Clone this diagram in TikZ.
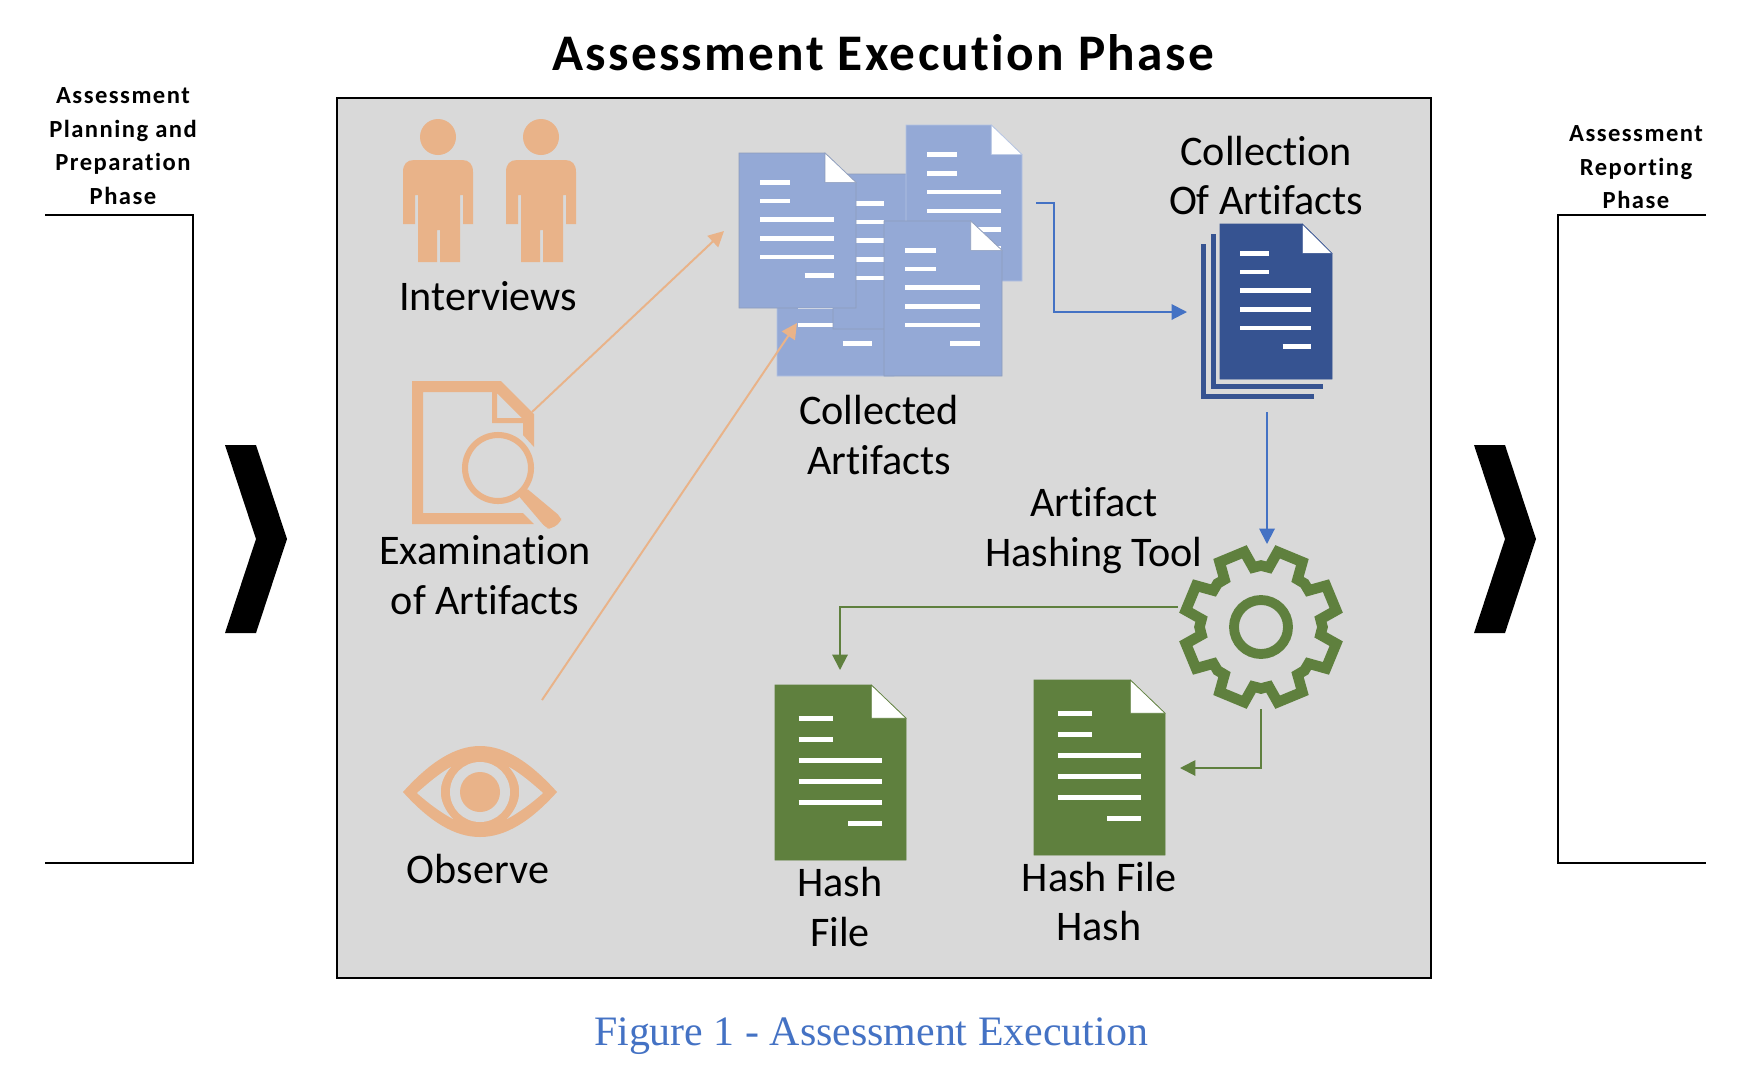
\documentclass[tikz,border=0pt]{standalone}
\usepackage{fontspec}
\setmainfont{Carlito}[Ligatures=NoCommon]
\newfontfamily\spacedbold[LetterSpace=6,Ligatures=NoCommon,BoldFont={Carlito Bold}]{Carlito}
\newfontfamily\titlebold[LetterSpace=4.5,Ligatures=NoCommon,BoldFont={Carlito Bold}]{Carlito}
\newfontfamily\captionserif{Liberation Serif}
\usetikzlibrary{arrows.meta}
\definecolor{panelgray}{HTML}{D9D9D9}
\definecolor{peach}{HTML}{E9B389}
\definecolor{paleblue}{HTML}{94A9D6}
\definecolor{deepblue}{HTML}{365391}
\definecolor{arrowblue}{HTML}{4472C4}
\definecolor{leafgreen}{HTML}{5F803E}
\tikzset{
  every node/.style={font=\fontsize{30}{35.5}\selectfont,align=center,inner sep=0pt},
  line cap=butt,line join=miter,
  phaselabel/.style={font=\fontsize{17.5}{23.8}\spacedbold\bfseries},
  phaseframe/.style={line width=1.1pt},
  chevron/.style={fill=black},
  link/.style={line width=1.4pt,-{Triangle[length=11pt,width=11pt]}},
  peachlink/.style={link,draw=peach},
  bluelink/.style={link,draw=arrowblue},
  greenlink/.style={link,draw=leafgreen}
}
% one sheet: left, top, width, height, fill, edge
\newcommand{\docsheet}[6]{
  \begin{scope}[shift={(#1,#2)},x=#3*0.25mm,y=-#4*0.25mm]
    \fill[#5,draw=#6,line width=0.6pt] (0,0) -- (0.735,0) -- (1,0.19) -- (1,1) -- (0,1) -- cycle;
    \fill[white,draw=#6,line width=0.4pt] (0.735,0) -- (1,0.19) -- (0.735,0.19) -- cycle;
    \foreach \ly/\la/\lb in {0.19/0.18/0.44,0.31/0.18/0.44,0.43/0.18/0.815,0.55/0.18/0.815,0.67/0.18/0.815,0.79/0.56/0.815}
      \draw[white,line width=3.2pt] (\la,\ly) -- (\lb,\ly);
  \end{scope}
}
\newcommand{\person}[1]{
  \begin{scope}[shift={(#1,0)}]
    \fill[peach] (0,137) circle (18);
    \fill[peach] (-35,224) -- (-35,172) .. controls (-35,164) and (-31,160) .. (-24,160) -- (24,160)
      .. controls (31,160) and (35,164) .. (35,172) -- (35,224) -- (25,224) -- (25,195) -- (22,195)
      -- (22,262) -- (2,262) -- (2,230) -- (-1,230) -- (-1,262) -- (-20,262) -- (-20,195) -- (-23,195)
      -- (-23,224) -- cycle;
  \end{scope}
}

\begin{document}
\begin{tikzpicture}[x=0.25mm,y=-0.25mm]
  \path[use as bounding box,fill=white] (0,0) rectangle (1752,1082);
  \node[font=\fontsize{36.5}{40}\titlebold\bfseries] (title) at (883,53) {Assessment Execution Phase};
  \node[font=\fontsize{29.8}{34}\captionserif,text=arrowblue] (caption) at (871,1036) {Figure 1 - Assessment Execution};

  % phases either side
  \draw[phaseframe] (45,215) -- (193,215) -- (193,863) -- (45,863);
  \draw[phaseframe] (1706,215) -- (1558,215) -- (1558,863) -- (1706,863);
  \node[phaselabel] (planning) at (123,146) {Assessment\\Planning and\\Preparation\\Phase};
  \node[phaselabel] (reporting) at (1636,167.5) {Assessment\\Reporting\\Phase};
  \fill[chevron] (225,445) -- (256,445) -- (287,539) -- (256,633) -- (225,633) -- (256,539) -- cycle;
  \fill[chevron] (1474,445) -- (1505,445) -- (1536,539) -- (1505,633) -- (1474,633) -- (1505,539) -- cycle;

  \draw[fill=panelgray,line width=1.1pt] (337,98) rectangle (1431,978);

  % people
  \person{438}
  \person{541}
  \node (interviews) at (488,296) {Interviews};

  % page with magnifier
  \fill[peach,even odd rule] (412,381) -- (501,381) -- (534,414) -- (534,447) -- (523,435) -- (523,423)
    -- (492,423) -- (492,392) -- (423,392) -- (423,513) -- (523,513) -- (534,524) -- (412,524) -- cycle
    (497,393) -- (522,418) -- (497,418) -- cycle;
  \draw[peach,line width=4.3pt] (498,468) circle (33);
  \fill[peach,rounded corners=3pt] (517,494) -- (525,487) -- (561,517) -- (561,522) -- (551,529) -- (546,528) -- cycle;
  \node (examination) at (485,575) {Examination\\of Artifacts};

  % eye
  \fill[peach] (403,792) .. controls (430,762) and (455,746) .. (480,746)
    .. controls (505,746) and (530,762) .. (557,792)
    .. controls (530,822) and (505,837) .. (480,837)
    .. controls (455,837) and (430,822) .. (403,792) -- cycle;
  \fill[panelgray] (417,793) .. controls (427,784) and (440,773) .. (451,767)
    .. controls (437,783) and (437,802) .. (453,819) .. controls (440,812) and (427,802) .. (417,793) -- cycle;
  \fill[panelgray] (543,793) .. controls (533,784) and (520,773) .. (509,767)
    .. controls (523,783) and (523,802) .. (507,819) .. controls (520,812) and (533,802) .. (543,793) -- cycle;
  \fill[panelgray] (480,792) circle (30);
  \fill[peach] (480,792) circle (20);
  \node (observe) at (478,869) {Observe};

  % collected artifacts
  \docsheet{777}{221}{117}{155}{paleblue}{paleblue!70!white}
  \docsheet{833}{174}{117}{155}{paleblue}{paleblue!70!gray}
  \docsheet{906}{125}{116}{156}{paleblue}{paleblue!70!white}
  \docsheet{739}{153}{117}{155}{paleblue}{paleblue!70!gray}
  \docsheet{884}{221}{118}{155}{paleblue}{paleblue!70!gray}
  \node (collected) at (879,435) {Collected\\Artifacts};

  % collection
  \draw[deepblue,line width=3.5pt] (1203.5,244) -- (1203.5,396.5) -- (1314,396.5);
  \draw[deepblue,line width=3.5pt] (1213.5,234) -- (1213.5,386.5) -- (1323,386.5);
  \docsheet{1220}{224}{112}{155}{deepblue}{deepblue}
  \node (collection) at (1266,175.5) {Collection\\Of Artifacts};

  % gear
  \begin{scope}[shift={(1261,627)}]
    \draw[leafgreen,line width=7.5pt] (7.5:60) \foreach \a in {22.5,67.5,...,337.5} {
      -- (\a-15:60) -- (\a-10:77) -- (\a+10:77) -- (\a+15:60) -- (\a+22.5:61.5)
    } -- cycle;
    \draw[leafgreen,line width=7pt] (0,0) circle (27);
  \end{scope}
  \node (hashtool) at (1094,531) {Artifact\\Hashing Tool};

  % hash files
  \docsheet{775}{685}{131}{175}{leafgreen}{leafgreen}
  \docsheet{1034}{680}{131}{175}{leafgreen}{leafgreen}
  \node (hashfile) at (840,907) {Hash\\File};
  \node (filehash) at (1099,901.5) {Hash File\\Hash};

  % connector ends
  \coordinate (examOut) at (532,412);
  \coordinate (observeOut) at (542,700);
  \coordinate (pilesIn) at (724,231);
  \coordinate (pilesLow) at (797,323);
  \coordinate (pilesOut) at (1036,203);
  \coordinate (collectIn) at (1187,312);
  \coordinate (collectOut) at (1267,412);
  \coordinate (gearIn) at (1267,544);
  \coordinate (gearLeft) at (1178,607);
  \coordinate (gearLow) at (1261,709);
  \coordinate (hashIn) at (840,670);
  \coordinate (fileHashIn) at (1180,768);

  \draw[peachlink] (examOut) -- (pilesIn);
  \draw[peachlink] (observeOut) -- (pilesLow);
  \draw[bluelink] (pilesOut) -- (1054,203) -- (1054,312) -- (collectIn);
  \draw[bluelink] (collectOut) -- (gearIn);
  \draw[greenlink] (gearLeft) -| (hashIn);
  \draw[greenlink] (gearLow) |- (fileHashIn);
\end{tikzpicture}
\end{document}
